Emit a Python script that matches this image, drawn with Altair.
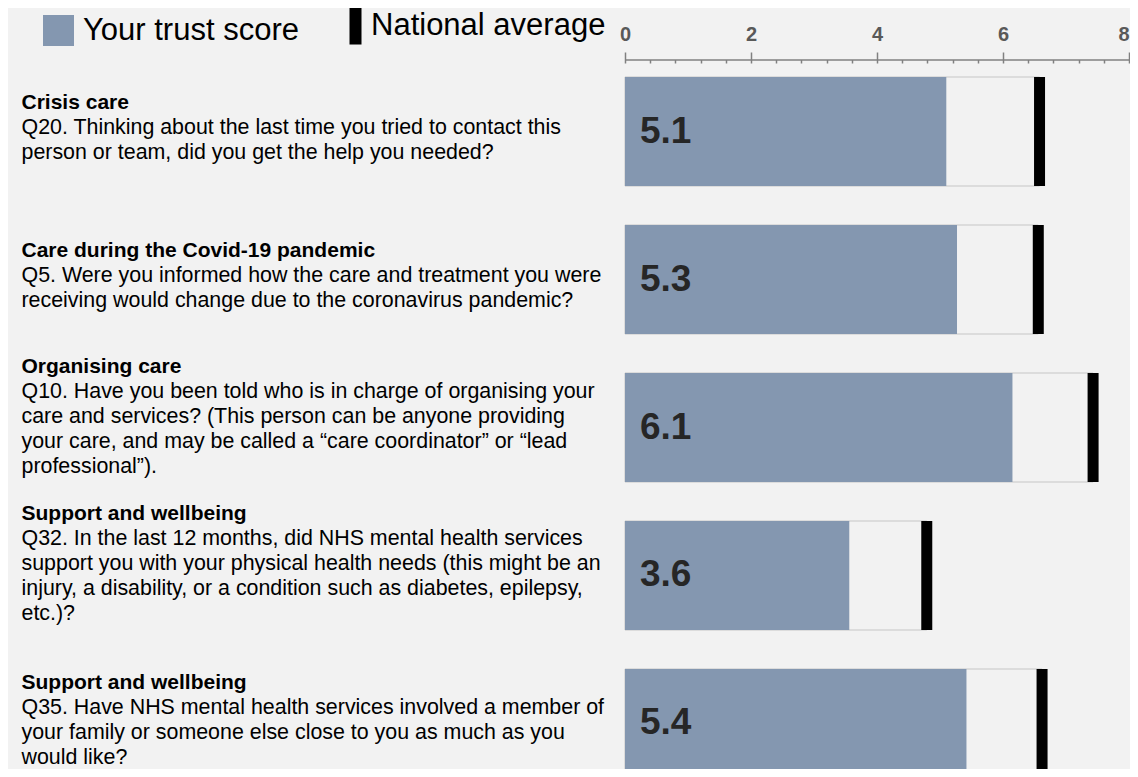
import altair as alt
import pandas as pd

TOPICS = [
    "Crisis care",
    "Care during the Covid-19 pandemic",
    "Organising care",
    "Support and wellbeing",
    "Support and wellbeing",
]
QUESTIONS = [
    ["Q20. Thinking about the last time you tried to contact this",
     "person or team, did you get the help you needed?"],
    ["Q5. Were you informed how the care and treatment you were",
     "receiving would change due to the coronavirus pandemic?"],
    ["Q10. Have you been told who is in charge of organising your",
     "care and services? (This person can be anyone providing",
     "your care, and may be called a \u201ccare coordinator\u201d or \u201clead",
     "professional\u201d)."],
    ["Q32. In the last 12 months, did NHS mental health services",
     "support you with your physical health needs (this might be an",
     "injury, a disability, or a condition such as diabetes, epilepsy,",
     "etc.)?"],
    ["Q35. Have NHS mental health services involved a member of",
     "your family or someone else close to you as much as you",
     "would like?"],
]
SCORES = [5.10, 5.27, 6.15, 3.56, 5.42]
SCORE_LABELS = ["5.1", "5.3", "6.1", "3.6", "5.4"]
NATIONAL = [6.58, 6.56, 7.43, 4.79, 6.62]
X_MAJOR = [0, 2, 4, 6, 8]
X_MINOR = [0, 0.4, 0.8, 1.2, 1.6, 2, 2.4, 2.8, 3.2, 3.6, 4,
           4.4, 4.8, 5.2, 5.6, 6, 6.4, 6.8, 7.2, 7.6, 8]
LEGEND_TRUST = "Your trust score"
LEGEND_NATIONAL = "National average"

rows = [t + "\n" + "\n".join(q) for t, q in zip(TOPICS, QUESTIONS)]
df = pd.DataFrame({"row": rows, "score": SCORES, "label": SCORE_LABELS,
                   "national": NATIONAL,
                   "trust_key": [LEGEND_TRUST] * len(rows),
                   "national_key": [LEGEND_NATIONAL] * len(rows)})

FONT = "Liberation Sans"
GREY = "#808080"

yscale = alt.Scale(range=[0, 729], paddingInner=0.2635, paddingOuter=0.0946)
xscale = alt.Scale(domain=[0, 8], nice=False, zero=True)

title_expr = ("split(slice(datum.value, 0, indexof(datum.value, '\\n')) + "
              "pad('', length(split(datum.value, '\\n')) - 1, '\\n'), '\\n')")
body_expr = "split(slice(datum.value, indexof(datum.value, '\\n')), '\\n')"

# shift each multi-line block up so that it sits around the bar centre
n_lines = "length(split(datum.value, '\\n'))"
block_offset = {
    "condition": [
        {"test": f"{n_lines} >= 5", "value": -61},
        {"test": f"{n_lines} == 4", "value": -40},
    ],
    "value": -29,
}

common_y_axis = dict(orient="left", domain=False, ticks=False, title=None,
                     labelAlign="left", labelBaseline="middle", labelPadding=604,
                     labelLimit=600, labelLineHeight=25, labelOffset=block_offset,
                     labelColor="#000000", labelFont=FONT, labelOverlap=False)
title_axis = alt.Axis(labelExpr=title_expr, labelFontWeight="bold",
                      labelFontSize=21, **common_y_axis)
body_axis = alt.Axis(labelExpr=body_expr, labelFontWeight="normal",
                     labelFontSize=21.4, **common_y_axis)

major_axis = alt.Axis(orient="top", values=X_MAJOR, format="d", title=None,
                      offset=3.5, tickSize=7.5, tickColor=GREY, tickWidth=1.5,
                      domain=True, domainColor=GREY, domainWidth=1.5, grid=False,
                      labelFontSize=20, labelFontWeight="bold", labelColor="#595959",
                      labelFont=FONT, labelPadding=12, labelBaseline="alphabetic",
                      labelAlign={"condition": {"test": "datum.value === 8",
                                                "value": "right"},
                                  "value": "center"},
                      labelFlush=False, labelOverlap=False)
minor_axis = alt.Axis(orient="top", values=X_MINOR, title=None, offset=0,
                      tickSize=3.5, tickColor=GREY, tickWidth=1.5, domain=False,
                      labels=False, grid=False)

base = alt.Chart(df)

bg = base.mark_bar(fill="#f2f2f2", stroke="#c6c6c6", strokeWidth=1).encode(
    x=alt.X("national:Q", scale=xscale, axis=major_axis),
    y=alt.Y("row:N", sort=None, scale=yscale, axis=title_axis),
)

bars = base.mark_bar().encode(
    x=alt.X("score:Q", scale=xscale, axis=minor_axis),
    y=alt.Y("row:N", sort=None, scale=yscale, axis=body_axis),
    color=alt.Color(
        "trust_key:N",
        scale=alt.Scale(domain=[LEGEND_TRUST], range=["#8497b0"]),
        legend=alt.Legend(orient="none", legendX=-582, legendY=-48, title=None,
                          padding=0, symbolType="square", symbolSize=961,
                          symbolStrokeWidth=0, labelFontSize=31, labelLimit=0,
                          labelColor="#000000", labelFont=FONT, labelOffset=9),
    ),
)

marker = base.mark_tick(thickness=11, size=109, opacity=1, filled=True).encode(
    x=alt.X("national:Q", scale=xscale, axis=None),
    y=alt.Y("row:N", sort=None, scale=yscale, axis=None),
    fill=alt.Fill(
        "national_key:N",
        scale=alt.Scale(domain=[LEGEND_NATIONAL], range=["#000000"]),
        legend=alt.Legend(orient="none", legendX=-285, legendY=-53, title=None,
                          padding=0,
                          symbolType="M-1,-3.17L1,-3.17L1,3.17L-1,3.17Z",
                          symbolSize=144, symbolStrokeWidth=0,
                          labelFontSize=31, labelLimit=0, labelColor="#000000",
                          labelFont=FONT, labelOffset=0),
    ),
)

labels = base.mark_text(align="left", baseline="middle", dx=15, fontSize=37,
                        fontWeight="bold", color="#262626", font=FONT).encode(
    x=alt.XDatum(0, scale=xscale, axis=None),
    y=alt.Y("row:N", sort=None, scale=yscale, axis=None),
    text="label:N",
)

chart = (
    alt.layer(bg, bars, marker, labels)
    .resolve_axis(x="independent", y="independent")
    .properties(width=504, height=706, autosize="none",
                padding={"left": 617, "right": 1, "top": 55, "bottom": 0})
    .configure(font=FONT, background="#f2f2f2")
    .configure_view(stroke=None)
)

chart.save("out.html", embed_options={"renderer": "svg", "actions": False})
